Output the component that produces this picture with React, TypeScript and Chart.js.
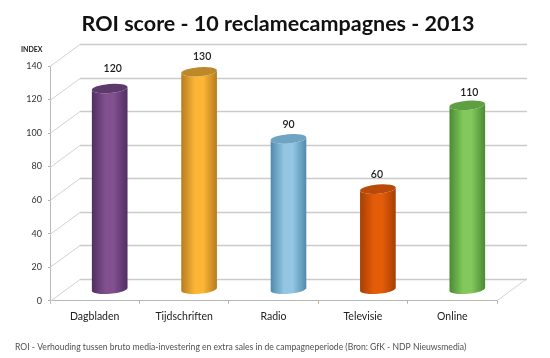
import React, { useEffect, useRef } from "react";
import { Chart, registerables } from "chart.js";

Chart.register(...registerables);

const categories = ["Dagbladen", "Tijdschriften", "Radio", "Televisie", "Online"];
const values = [120, 130, 90, 60, 110];
const centerColors = ["#80508f", "#fdb536", "#93c6e2", "#e45c08", "#82c85c"];
const edgeColors = ["#502e62", "#b67b20", "#4f8aac", "#a53f04", "#4a8a34"];
const topColors = ["#5c3a6c", "#bd8829", "#6ea3c2", "#b94a08", "#5f9f44"];
const titleText = "ROI score - 10 reclamecampagnes - 2013";
const footnote = "ROI - Verhouding tussen bruto media-investering en extra sales in de campagneperiode (Bron: GfK - NDP Nieuwsmedia)";
const axisName = "INDEX";
const FONT = "Lato, 'Open Sans', sans-serif";
const GRID = "#cbcbcb";
const DEPTH_X = 30;
const DEPTH_Y = -22;
const labelLift = [20, 15, 14, 15, 13];
const labelShift = [3, 3, 0, -1, 2];

const wallsPlugin = {
  id: "walls",
  beforeDraw(chart: any) {
    // centre the title over the full plot including its depth
    const tb = chart.titleBlock;
    if (tb) {
      tb.left = 0;
      tb.right = chart.chartArea.right + DEPTH_X + 29;
    }
  },
  beforeDatasetsDraw(chart: any) {
    const { ctx, chartArea: a, scales } = chart;
    const y = scales.y;
    ctx.save();
    for (const t of y.ticks) {
      const py = Math.round(y.getPixelForValue(t.value)) + 0.5;
      ctx.strokeStyle = "#d2d2d2";
      ctx.lineWidth = 1;
      ctx.beginPath();
      ctx.moveTo(a.left, py);
      ctx.lineTo(a.left + DEPTH_X, py + DEPTH_Y);
      ctx.stroke();
      ctx.strokeStyle = GRID;
      ctx.lineWidth = 1.3;
      ctx.beginPath();
      ctx.moveTo(a.left + DEPTH_X, py + DEPTH_Y);
      ctx.lineTo(a.right + DEPTH_X, py + DEPTH_Y);
      ctx.stroke();
    }
    ctx.strokeStyle = "#d2d2d2";
    ctx.lineWidth = 1;
    ctx.beginPath();
    ctx.moveTo(a.right, a.bottom);
    ctx.lineTo(a.right + DEPTH_X, a.bottom + DEPTH_Y);
    ctx.stroke();
    ctx.restore();
  },
};

const cylinderPlugin = {
  id: "cylinders",
  afterDatasetsDraw(chart: any) {
    const { ctx } = chart;
    const meta = chart.getDatasetMeta(0);
    const tilt = -0.08;
    meta.data.forEach((bar: any, i: number) => {
      const cx = bar.x + DEPTH_X / 2;
      const top = bar.y + DEPTH_Y / 2;
      const bottom = bar.base + DEPTH_Y / 2;
      const rx = bar.width / 2;
      const ry = 4.6;
      const g = ctx.createLinearGradient(cx - rx, 0, cx + rx, 0);
      g.addColorStop(0, edgeColors[i]);
      g.addColorStop(0.38, centerColors[i]);
      g.addColorStop(0.62, centerColors[i]);
      g.addColorStop(1, edgeColors[i]);
      ctx.save();
      ctx.fillStyle = g;
      ctx.beginPath();
      ctx.ellipse(cx, bottom, rx, ry, tilt, 0, Math.PI);
      ctx.ellipse(cx, top, rx, ry, tilt, Math.PI, 0, true);
      ctx.closePath();
      ctx.fill();
      ctx.fillStyle = topColors[i];
      ctx.beginPath();
      ctx.ellipse(cx, top, rx, ry, tilt, 0, Math.PI * 2);
      ctx.fill();
      ctx.fillStyle = "#1c1c1c";
      ctx.font = `600 10.5px ${FONT}`;
      ctx.textAlign = "center";
      ctx.textBaseline = "middle";
      ctx.fillText(String(values[i]), cx + labelShift[i], top - labelLift[i]);
      ctx.restore();
    });
  },
  afterDraw(chart: any) {
    const { ctx } = chart;
    ctx.save();
    ctx.textBaseline = "middle";
    ctx.textAlign = "left";
    ctx.fillStyle = "#222222";
    ctx.font = `700 7px ${FONT}`;
    ctx.fillText(axisName, 21, 50);
    ctx.fillStyle = "#505050";
    ctx.font = `8.6px ${FONT}`;
    ctx.fillText(footnote, 15, 347);
    ctx.restore();
  },
};

export default function App() {
  const ref = useRef<HTMLCanvasElement>(null);
  useEffect(() => {
    document.body.style.margin = "0";
    const chart = new Chart(ref.current as HTMLCanvasElement, {
      type: "bar",
      data: {
        labels: categories,
        datasets: [
          {
            data: values,
            backgroundColor: "rgba(0,0,0,0)",
            borderWidth: 0,
            barPercentage: 0.4,
            categoryPercentage: 1,
          },
        ],
      },
      options: {
        animation: false,
        responsive: false,
        layout: { padding: { left: 0, right: 53, top: 0, bottom: 0 } },
        plugins: {
          legend: { display: false },
          tooltip: { enabled: false },
          title: {
            display: true,
            text: titleText,
            color: "#111111",
            font: { family: FONT, size: 21.5, weight: "bold" },
            padding: { top: 11, bottom: 29.2 },
          },
        },
        scales: {
          x: {
            afterFit: (s: any) => {
              s.height = 57.3;
            },
            grid: { drawOnChartArea: false, color: "#b0b0b0", tickLength: 3, offset: true },
            border: { color: "#b8b8b8" },
            ticks: { color: "#222222", font: { family: FONT, size: 10.5 }, padding: 7, maxRotation: 0 },
          },
          y: {
            min: 0,
            max: 140,
            afterFit: (s: any) => {
              s.width = 50;
            },
            grid: { drawOnChartArea: false, color: "#b0b0b0", tickLength: 2 },
            border: { color: "#b8b8b8" },
            ticks: { stepSize: 20, color: "#333333", font: { family: FONT, size: 9 }, padding: 6 },
          },
        },
      },
      plugins: [wallsPlugin, cylinderPlugin],
    } as any);
    return () => chart.destroy();
  }, []);
  return (
    <canvas
      ref={ref}
      width={550}
      height={358}
      style={{ display: "block", background: "#ffffff", filter: "blur(0.35px)" }}
    />
  );
}
